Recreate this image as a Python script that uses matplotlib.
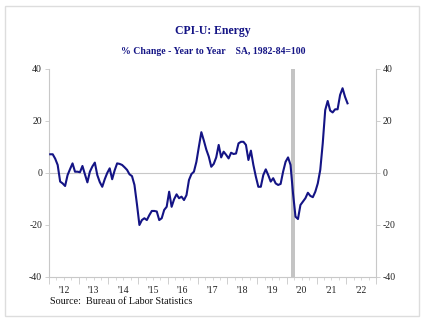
import numpy as np
import matplotlib.pyplot as plt
from matplotlib.patches import Rectangle

# CPI-U energy, % change year to year, monthly Jan 2012 - Jan 2022
y2012 = [7.2, 7.2, 5.5, 3.1, -3.3, -4.0, -5.0, -0.8, 1.5, 3.7, 0.5, 0.5]
y2013 = [0.3, 2.7, -0.5, -3.6, 0.5, 2.5, 4.0, -0.8, -3.5, -5.3, -2.4, 0.0]
y2014 = [1.8, -2.4, 1.0, 3.7, 3.5, 3.1, 2.2, 1.2, -0.5, -1.2, -4.6, -12.0]
y2015 = [-20.0, -18.1, -17.4, -18.1, -16.2, -14.6, -14.6, -14.8, -18.1, -17.4, -14.2, -13.0]
y2016 = [-7.2, -13.0, -10.1, -8.2, -9.7, -9.1, -10.4, -8.5, -2.7, -0.4, 0.5, 4.3]
y2017 = [10.1, 15.7, 12.5, 9.0, 6.3, 2.4, 3.5, 6.0, 10.8, 6.0, 8.2, 7.0]
y2018 = [5.6, 7.8, 7.3, 7.5, 11.4, 12.0, 12.0, 10.8, 5.0, 8.6, 3.1, -1.4]
y2019 = [-5.3, -5.3, -0.8, 1.4, -0.8, -3.3, -2.0, -4.0, -4.6, -4.2, 0.5, 4.3]
y2020 = [6.0, 3.1, -7.8, -16.8, -17.7, -12.3, -11.0, -9.7, -7.6, -8.8, -9.3, -7.2]
y2021 = [-4.0, 1.2, 11.4, 24.2, 27.7, 24.0, 23.3, 24.5, 24.5, 30.0, 32.6, 29.3]
y2022 = [26.8]

energy = np.array(y2012 + y2013 + y2014 + y2015 + y2016 + y2017
                  + y2018 + y2019 + y2020 + y2021 + y2022)
dates = 2012 + (np.arange(len(energy)) + 0.5) / 12

years = list(range(2012, 2023))
year_labels = ["'" + str(y)[2:] for y in years]
yticks = [-40, -20, 0, 20, 40]
recession = (2020 + 1.6 / 12, 2020 + 3.4 / 12)

navy = '#141485'
grey = '#c8c8c8'
serif = ['Liberation Serif', 'DejaVu Serif']

fig = plt.figure(figsize=(4.3, 3.3), dpi=100)
fig.patches.append(Rectangle((5 / 430, 14 / 330), 414 / 430, 310 / 330,
                             transform=fig.transFigure, fill=False,
                             edgecolor='#dddddd', linewidth=1.0))

ax = fig.add_axes([49 / 430, 53 / 330, 327 / 430, 208 / 330])
ax.axvspan(recession[0], recession[1], color='#c4c4c4', lw=0, zorder=1)
ax.axhline(0, color=grey, lw=0.8, zorder=1)
ax.plot(dates, energy, color=navy, lw=1.5, zorder=3)

ax.set_xlim(2012, 2023)
ax.set_ylim(-40, 40)

for s in ['left', 'right', 'bottom']:
    ax.spines[s].set_color(grey)
    ax.spines[s].set_linewidth(0.8)
ax.spines['top'].set_visible(False)

ax.set_yticks(yticks)
ax.set_yticklabels([str(v) for v in yticks], family=serif, fontsize=7, color='#222222')
ax.tick_params(axis='y', left=True, right=True, labelleft=True, labelright=True,
               length=3, width=0.6, color=grey, pad=2)

ax.set_xticks(range(2012, 2024))
ax.set_xticks(np.arange(2012, 2023, 0.25), minor=True)
ax.set_xticklabels([])
ax.tick_params(axis='x', which='major', length=5, width=0.6, color=grey)
ax.tick_params(axis='x', which='minor', length=2.5, width=0.5, color=grey)
for y, lab in zip(years, year_labels):
    ax.text(y + 0.5, -0.045, lab, transform=ax.get_xaxis_transform(),
            ha='center', va='top', family=serif, fontsize=7, color='#222222')

fig.text(0.495, 1 - 31 / 330, 'CPI-U: Energy', ha='center', va='center',
         family=serif, fontsize=8.5, fontweight='bold', color=navy)
fig.text(0.495, 1 - 52 / 330, '% Change - Year to Year    SA, 1982-84=100',
         ha='center', va='center', family=serif, fontsize=7,
         fontweight='bold', color=navy)
fig.text(50 / 430, 1 - 302 / 330, 'Source:  Bureau of Labor Statistics',
         ha='left', va='center', family=serif, fontsize=7.3, color='#111111')

fig.savefig('out.png', dpi=100)
